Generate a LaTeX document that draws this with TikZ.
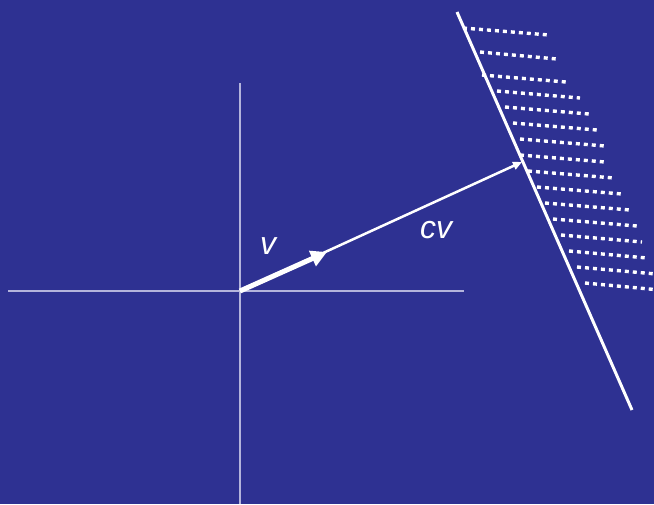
\documentclass[tikz,border=0pt]{standalone}
\usepackage{fontspec}
\setsansfont{Liberation Sans}
\usetikzlibrary{arrows.meta}
\definecolor{bg}{HTML}{2E3192}
\definecolor{axis}{HTML}{B4B4DC}
\tikzset{
  axisline/.style={draw=axis, line width=1.1pt},
  hatch/.style={draw=white, line width=3.4pt, dash pattern=on 4pt off 4pt},
  lbl/.style={text=white, font=\sffamily\itshape\fontsize{32}{32}\selectfont, inner sep=0pt}
}
\begin{document}
\begin{tikzpicture}[x=1pt,y=-1pt]
\fill[bg] (0,0) rectangle (654,504);
\useasboundingbox (0,0) rectangle (654,504);
\coordinate (O) at (240,291);
\coordinate (xl) at (8,291);
\coordinate (xr) at (464,291);
\coordinate (yt) at (240,83);
\coordinate (yb) at (240,504);
\draw[axisline] (xl) -- (xr);
\draw[axisline] (yt) -- (yb);
% hatching rows
\begin{scope}
\clip (0,0) rectangle (654,504);
\foreach \sx/\sy/\ex in {463/28/549, 480/52/557, 482/75/566, 497/91/580, 505/107/589, 513/123/597, 520/139/605, 520/155/605, 528/171/614, 537/187/622, 545/203/630, 553/219/637, 561/235/642, 569/251/647, 577/267/656, 585/283/660}{
  \draw[hatch] (\sx,\sy) -- (\ex,\sy+7);
}
\end{scope}
\coordinate (L1) at (457,12);
\coordinate (L2) at (632,410);
\draw[white, line width=3pt] (L1) -- (L2);
\coordinate (cvEnd) at (522,162);
\coordinate (vEnd) at (327,252);
\draw[white, line width=2.5pt, -{Triangle[length=9pt,width=8pt]}] (O) -- (cvEnd);
\draw[white, line width=5pt, -{Triangle[length=16pt,width=16pt]}] (O) -- (vEnd);
\node[lbl] (v) at (268,246) {v};
\node[lbl] (cv) at (436,230) {cv};
\end{tikzpicture}
\end{document}
